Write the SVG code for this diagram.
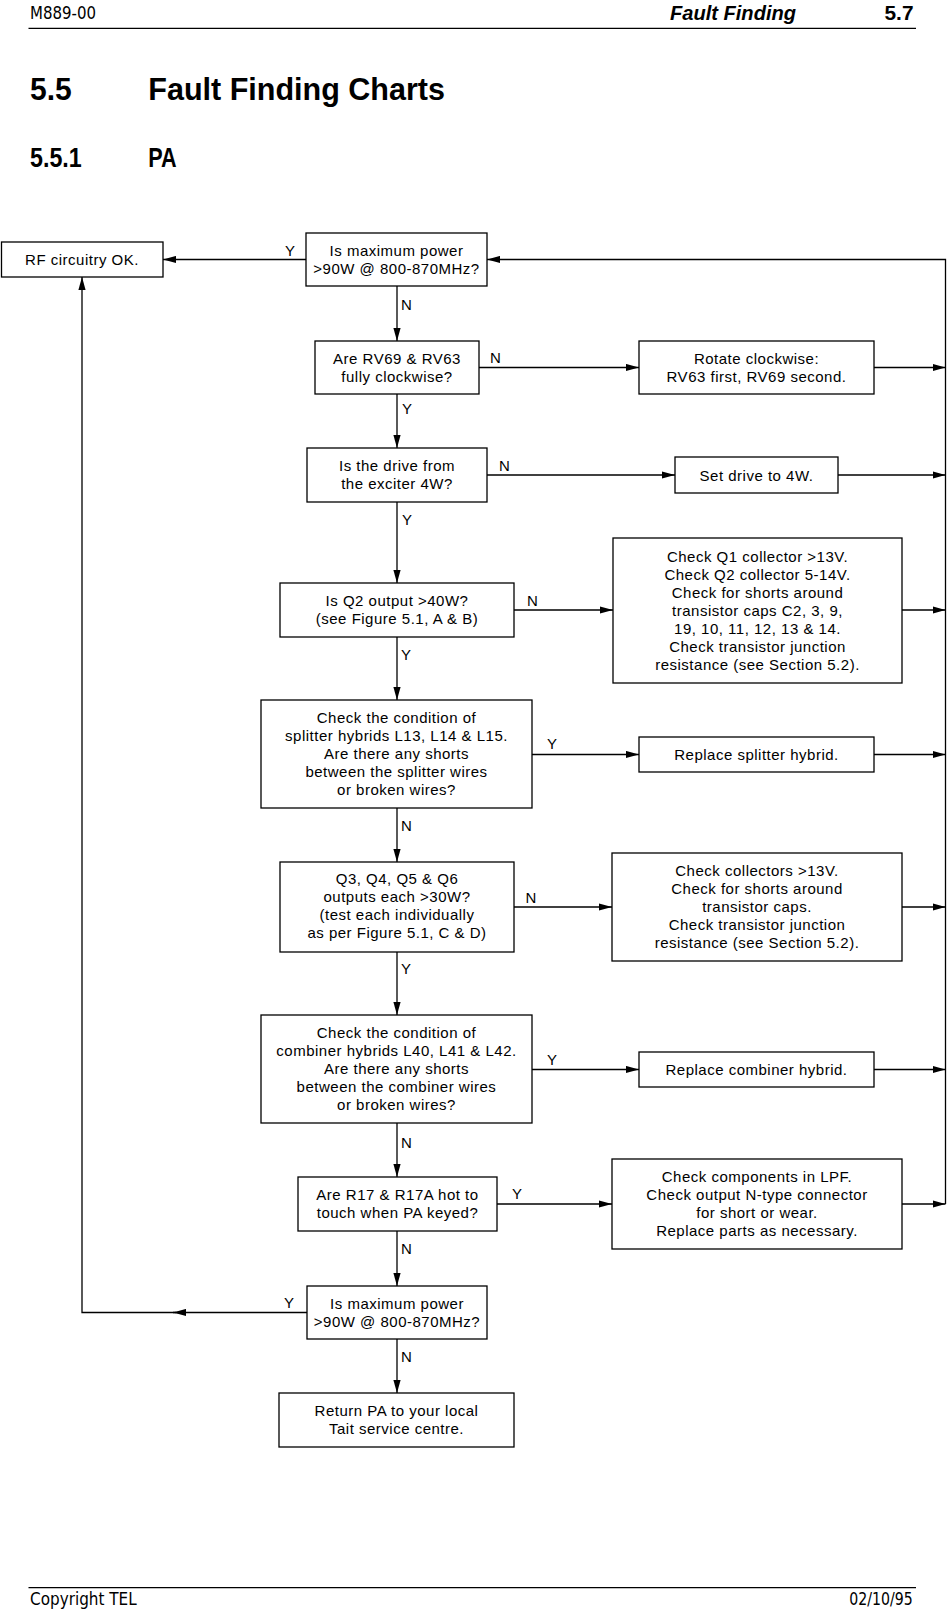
<svg xmlns="http://www.w3.org/2000/svg" width="947" height="1611" viewBox="0 0 947 1611">
<style>
.bx{fill:#fff;stroke:#000;stroke-width:1.3}
.t{font-family:"Liberation Sans",Arial,sans-serif;font-size:15px;letter-spacing:0.5px;fill:#000;text-anchor:middle}
.l{font-family:"Liberation Sans",Arial,sans-serif;font-size:15px;fill:#000}
.c{fill:none;stroke:#000;stroke-width:1.3}
.hd{font-family:"DejaVu Sans",sans-serif;fill:#000}
.hb{font-family:"Liberation Sans",Arial,sans-serif;font-weight:bold;fill:#000}
</style>
<defs>
<marker id="ar" markerUnits="userSpaceOnUse" markerWidth="14" markerHeight="8" refX="13" refY="4" orient="auto">
<path d="M0,0.4 L13,4 L0,7.6 z" fill="#000"/>
</marker>
</defs>
<rect width="947" height="1611" fill="#fff"/>

<g id="header">
<text class="hd" x="30" y="18.5" font-size="18" textLength="66" lengthAdjust="spacingAndGlyphs">M889-00</text>
<text class="hb" x="670" y="19.5" font-size="21" font-style="italic" textLength="126" lengthAdjust="spacingAndGlyphs">Fault Finding</text>
<text class="hb" x="884.5" y="19.5" font-size="21" textLength="29" lengthAdjust="spacingAndGlyphs">5.7</text>
<line x1="28.5" y1="28.3" x2="916" y2="28.3" stroke="#000" stroke-width="1.3"/>
<text class="hb" x="30" y="100" font-size="32" textLength="41.7" lengthAdjust="spacingAndGlyphs">5.5</text>
<text class="hb" x="148.3" y="100" font-size="32" textLength="296.7" lengthAdjust="spacingAndGlyphs">Fault Finding Charts</text>
<text class="hb" x="30" y="166.7" font-size="28" textLength="51.7" lengthAdjust="spacingAndGlyphs">5.5.1</text>
<text class="hb" x="148.3" y="166.7" font-size="28" textLength="28.4" lengthAdjust="spacingAndGlyphs">PA</text>
</g>

<g id="footer">
<line x1="28.5" y1="1587.7" x2="916" y2="1587.7" stroke="#000" stroke-width="1.3"/>
<text class="hd" x="30" y="1605" font-size="17.5" textLength="106.7" lengthAdjust="spacingAndGlyphs">Copyright TEL</text>
<text class="hd" x="849.3" y="1605" font-size="17.5" textLength="63.4" lengthAdjust="spacingAndGlyphs">02/10/95</text>
</g>

<g id="connectors">
<path class="c" d="M306,259.5 H163" marker-end="url(#ar)"/>
<path class="c" d="M945.5,1204 V259.5 H487" marker-end="url(#ar)"/>
<path class="c" d="M397,286 V341" marker-end="url(#ar)"/>
<path class="c" d="M479,367.5 H639" marker-end="url(#ar)"/>
<path class="c" d="M874,367.5 H945.5" marker-end="url(#ar)"/>
<path class="c" d="M397,394 V448" marker-end="url(#ar)"/>
<path class="c" d="M487,475 H675" marker-end="url(#ar)"/>
<path class="c" d="M838,475 H945.5" marker-end="url(#ar)"/>
<path class="c" d="M397,502 V583" marker-end="url(#ar)"/>
<path class="c" d="M514,610 H613" marker-end="url(#ar)"/>
<path class="c" d="M902,610 H945.5" marker-end="url(#ar)"/>
<path class="c" d="M397,637 V700" marker-end="url(#ar)"/>
<path class="c" d="M532,754.5 H639" marker-end="url(#ar)"/>
<path class="c" d="M874,754.5 H945.5" marker-end="url(#ar)"/>
<path class="c" d="M397,808 V862" marker-end="url(#ar)"/>
<path class="c" d="M514,907 H612" marker-end="url(#ar)"/>
<path class="c" d="M902,907 H945.5" marker-end="url(#ar)"/>
<path class="c" d="M397,952 V1015" marker-end="url(#ar)"/>
<path class="c" d="M532,1069.5 H639" marker-end="url(#ar)"/>
<path class="c" d="M874,1069.5 H945.5" marker-end="url(#ar)"/>
<path class="c" d="M397,1123 V1177" marker-end="url(#ar)"/>
<path class="c" d="M497,1204 H612" marker-end="url(#ar)"/>
<path class="c" d="M902,1204 H945.5" marker-end="url(#ar)"/>
<path class="c" d="M397,1231 V1286" marker-end="url(#ar)"/>
<path class="c" d="M307,1312.5 H173" marker-end="url(#ar)"/>
<path class="c" d="M176,1312.5 H82 V277" marker-end="url(#ar)"/>
<path class="c" d="M397,1339 V1393" marker-end="url(#ar)"/>
<text class="l" x="285" y="255.5">Y</text>
<text class="l" x="401" y="310">N</text>
<text class="l" x="490" y="363">N</text>
<text class="l" x="402" y="414">Y</text>
<text class="l" x="499" y="471">N</text>
<text class="l" x="402" y="525">Y</text>
<text class="l" x="527" y="606">N</text>
<text class="l" x="401" y="660">Y</text>
<text class="l" x="547" y="748.5">Y</text>
<text class="l" x="401" y="831">N</text>
<text class="l" x="525.5" y="903">N</text>
<text class="l" x="401" y="974">Y</text>
<text class="l" x="547" y="1065">Y</text>
<text class="l" x="401" y="1148">N</text>
<text class="l" x="512" y="1199">Y</text>
<text class="l" x="401" y="1254">N</text>
<text class="l" x="284" y="1308">Y</text>
<text class="l" x="401" y="1362">N</text>
</g>

<g id="n-rf">
<rect class="bx" x="1.5" y="242" width="161.5" height="35"/>
<text class="t" x="82" y="264.5">RF circuitry OK.</text>
</g>
<g id="n-max1">
<rect class="bx" x="306" y="233" width="181" height="53"/>
<text class="t" x="396.5" y="255.5">Is maximum power</text>
<text class="t" x="396.5" y="273.5">&gt;90W @ 800-870MHz?</text>
</g>
<g id="n-rv">
<rect class="bx" x="315" y="341" width="164" height="53"/>
<text class="t" x="397" y="363.5">Are RV69 &amp; RV63</text>
<text class="t" x="397" y="381.5">fully clockwise?</text>
</g>
<g id="n-rotate">
<rect class="bx" x="639" y="341" width="235" height="53"/>
<text class="t" x="756.5" y="363.5">Rotate clockwise:</text>
<text class="t" x="756.5" y="381.5">RV63 first, RV69 second.</text>
</g>
<g id="n-drive">
<rect class="bx" x="307" y="448" width="180" height="54"/>
<text class="t" x="397" y="471">Is the drive from</text>
<text class="t" x="397" y="489">the exciter 4W?</text>
</g>
<g id="n-setdrive">
<rect class="bx" x="675" y="457" width="163" height="36"/>
<text class="t" x="756.5" y="480.5">Set drive to 4W.</text>
</g>
<g id="n-q2">
<rect class="bx" x="280" y="583" width="234" height="54"/>
<text class="t" x="397" y="606">Is Q2 output &gt;40W?</text>
<text class="t" x="397" y="624">(see Figure 5.1, A &amp; B)</text>
</g>
<g id="n-q1">
<rect class="bx" x="613" y="538" width="289" height="145"/>
<text class="t" x="757.5" y="561.5">Check Q1 collector &gt;13V.</text>
<text class="t" x="757.5" y="579.5">Check Q2 collector 5-14V.</text>
<text class="t" x="757.5" y="597.5">Check for shorts around</text>
<text class="t" x="757.5" y="615.5">transistor caps C2, 3, 9,</text>
<text class="t" x="757.5" y="633.5">19, 10, 11, 12, 13 &amp; 14.</text>
<text class="t" x="757.5" y="651.5">Check transistor junction</text>
<text class="t" x="757.5" y="669.5">resistance (see Section 5.2).</text>
</g>
<g id="n-splitter">
<rect class="bx" x="261" y="700" width="271" height="108"/>
<text class="t" x="396.5" y="723">Check the condition of</text>
<text class="t" x="396.5" y="741">splitter hybrids L13, L14 &amp; L15.</text>
<text class="t" x="396.5" y="759">Are there any shorts</text>
<text class="t" x="396.5" y="777">between the splitter wires</text>
<text class="t" x="396.5" y="795">or broken wires?</text>
</g>
<g id="n-repsplit">
<rect class="bx" x="639" y="737" width="235" height="35"/>
<text class="t" x="756.5" y="759.5">Replace splitter hybrid.</text>
</g>
<g id="n-q3">
<rect class="bx" x="280" y="862" width="234" height="90"/>
<text class="t" x="397" y="884">Q3, Q4, Q5 &amp; Q6</text>
<text class="t" x="397" y="902">outputs each &gt;30W?</text>
<text class="t" x="397" y="920">(test each individually</text>
<text class="t" x="397" y="938">as per Figure 5.1, C &amp; D)</text>
</g>
<g id="n-collectors">
<rect class="bx" x="612" y="853" width="290" height="108"/>
<text class="t" x="757" y="876">Check collectors &gt;13V.</text>
<text class="t" x="757" y="894">Check for shorts around</text>
<text class="t" x="757" y="912">transistor caps.</text>
<text class="t" x="757" y="930">Check transistor junction</text>
<text class="t" x="757" y="948">resistance (see Section 5.2).</text>
</g>
<g id="n-combiner">
<rect class="bx" x="261" y="1015" width="271" height="108"/>
<text class="t" x="396.5" y="1038">Check the condition of</text>
<text class="t" x="396.5" y="1056">combiner hybrids L40, L41 &amp; L42.</text>
<text class="t" x="396.5" y="1074">Are there any shorts</text>
<text class="t" x="396.5" y="1092">between the combiner wires</text>
<text class="t" x="396.5" y="1110">or broken wires?</text>
</g>
<g id="n-repcomb">
<rect class="bx" x="639" y="1052" width="235" height="35"/>
<text class="t" x="756.5" y="1074.5">Replace combiner hybrid.</text>
</g>
<g id="n-r17">
<rect class="bx" x="298" y="1177" width="199" height="54"/>
<text class="t" x="397.5" y="1200">Are R17 &amp; R17A hot to</text>
<text class="t" x="397.5" y="1218">touch when PA keyed?</text>
</g>
<g id="n-lpf">
<rect class="bx" x="612" y="1159" width="290" height="90"/>
<text class="t" x="757" y="1182">Check components in LPF.</text>
<text class="t" x="757" y="1200">Check output N-type connector</text>
<text class="t" x="757" y="1218">for short or wear.</text>
<text class="t" x="757" y="1236">Replace parts as necessary.</text>
</g>
<g id="n-max2">
<rect class="bx" x="307" y="1286" width="180" height="53"/>
<text class="t" x="397" y="1308.5">Is maximum power</text>
<text class="t" x="397" y="1326.5">&gt;90W @ 800-870MHz?</text>
</g>
<g id="n-return">
<rect class="bx" x="279" y="1393" width="235" height="54"/>
<text class="t" x="396.5" y="1416">Return PA to your local</text>
<text class="t" x="396.5" y="1434">Tait service centre.</text>
</g>
</svg>
